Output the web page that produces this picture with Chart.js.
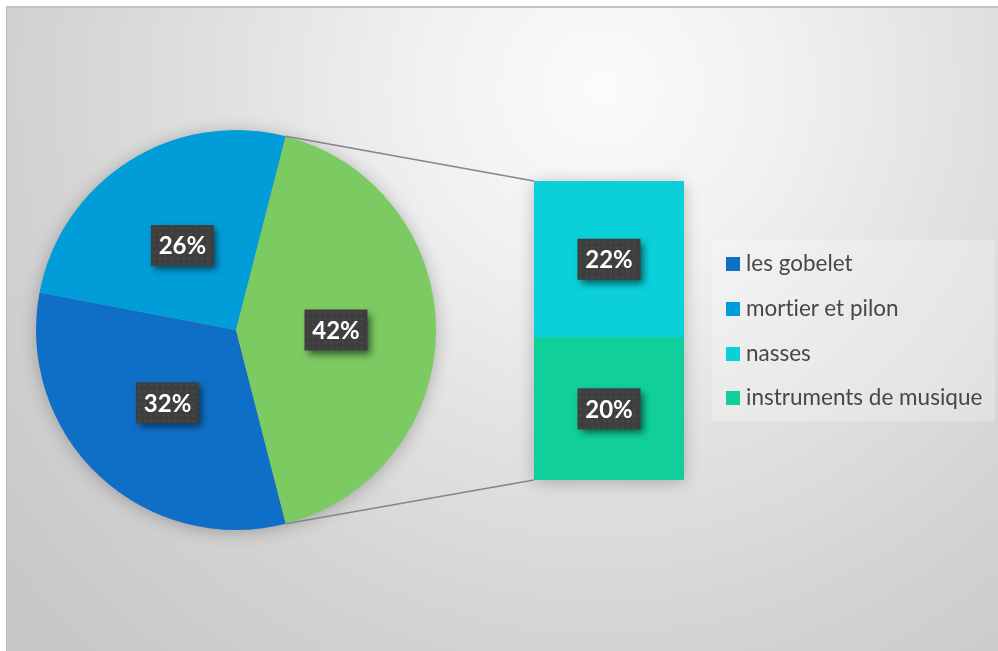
<!DOCTYPE html>
<html><head><meta charset="utf-8">
<script src="https://cdn.jsdelivr.net/npm/chart.js@4/dist/chart.umd.min.js"></script>
<style>
html,body{margin:0;padding:0;background:#fff;width:998px;height:651px;overflow:hidden;font-family:Lato,"Open Sans",sans-serif;}
#frame{position:absolute;left:6px;top:6px;width:992px;height:645px;box-sizing:border-box;border-left:1px solid #b9b9b9;border-top:2px solid #c4c4c4;
background:radial-gradient(circle at 594px 80px,#fbfbfb 0px,#f1f1f1 180px,#e2e2e2 360px,#d3d3d3 560px,#c8c8c8 760px);}
canvas{position:absolute;}
#legend{position:absolute;left:712px;top:240px;width:283px;height:181px;background:rgba(255,255,255,0.25);}
.item{position:absolute;left:14px;height:24px;line-height:24px;font-size:22.5px;color:#474747;white-space:nowrap;font-variant-ligatures:none;}
.item span.sw{display:inline-block;width:14px;height:14px;margin-right:6px;vertical-align:0px;}
</style></head>
<body>
<div id="frame"></div>
<canvas id="pie" width="460" height="460" style="left:6px;top:100px"></canvas>
<canvas id="bar" width="190" height="339" style="left:514px;top:161px"></canvas>
<canvas id="lines" width="998" height="651" style="left:0;top:0;pointer-events:none"></canvas>
<div id="legend"></div>
<script>
// ---- data ----
const categories = ['les gobelet', 'mortier et pilon', 'nasses', 'instruments de musique'];
const values = [32, 26, 22, 20];
const colors = ['#0F6FC6', '#009DD9', '#0BD0D9', '#10CF9B'];
const otherColor = '#7CCA62';
const pieCount = 2; // first two categories in the pie, the rest in the bar

const pieLabels = categories.slice(0, pieCount).concat(['Autre']);
const barCats = categories.slice(pieCount);
const barVals = values.slice(pieCount);
const otherTotal = barVals.reduce((a, b) => a + b, 0);
const pieVals = values.slice(0, pieCount).concat([otherTotal]);
const total = values.reduce((a, b) => a + b, 0);
const pct = v => Math.round(v / total * 100) + '%';

function drawLabelBox(ctx, x, y, text) {
  const w = 63, h = 41;
  ctx.save();
  ctx.shadowColor = 'rgba(0,0,0,0.55)';
  ctx.shadowBlur = 7;
  ctx.shadowOffsetX = 3;
  ctx.shadowOffsetY = 4;
  ctx.fillStyle = '#3e3e3e';
  ctx.fillRect(x - w / 2, y - h / 2, w, h);
  ctx.restore();
  ctx.save();
  ctx.fillStyle = 'rgba(255,255,255,0.045)';
  for (let yy = y - h / 2 + 3; yy < y + h / 2; yy += 6) {
    for (let xx = x - w / 2 + 3; xx < x + w / 2; xx += 6) {
      ctx.beginPath(); ctx.arc(xx, yy, 1.6, 0, Math.PI * 2); ctx.fill();
    }
  }
  ctx.fillStyle = '#ffffff';
  ctx.font = 'bold 24px Lato, "Open Sans", sans-serif';
  ctx.textAlign = 'center';
  ctx.textBaseline = 'middle';
  ctx.fillText(text, x, y + 1);
  ctx.restore();
}

const pieShadow = {
  id: 'pieShadow',
  beforeDatasetsDraw(chart) {
    const arc = chart.getDatasetMeta(0).data[0];
    const ctx = chart.ctx;
    ctx.save();
    ctx.shadowColor = 'rgba(0,0,0,0.28)';
    ctx.shadowBlur = 18;
    ctx.shadowOffsetY = 2;
    ctx.fillStyle = '#999';
    ctx.beginPath(); ctx.arc(arc.x, arc.y, arc.outerRadius - 1, 0, Math.PI * 2); ctx.fill();
    ctx.restore();
  }
};
const pieLabelsPlugin = {
  id: 'pieLabels',
  afterDatasetsDraw(chart) {
    const meta = chart.getDatasetMeta(0);
    meta.data.forEach((el, i) => {
      const p = el.tooltipPosition();
      drawLabelBox(chart.ctx, p.x, p.y, pct(pieVals[i]));
    });
  }
};

const pieChart = new Chart(document.getElementById('pie'), {
  type: 'pie',
  data: { labels: pieLabels, datasets: [{ data: pieVals, backgroundColor: colors.slice(0, pieCount).concat([otherColor]), borderWidth: 0 }] },
  options: {
    responsive: false, animation: false,
    rotation: 90 + (otherTotal / total * 360) / 2,
    layout: { padding: 30 },
    plugins: { legend: { display: false }, tooltip: { enabled: false } }
  },
  plugins: [pieShadow, pieLabelsPlugin]
});

const barShadow = {
  id: 'barShadow',
  beforeDatasetsDraw(chart) {
    const a = chart.chartArea, ctx = chart.ctx;
    ctx.save();
    ctx.shadowColor = 'rgba(0,0,0,0.28)';
    ctx.shadowBlur = 16;
    ctx.shadowOffsetY = 2;
    ctx.fillStyle = '#999';
    ctx.fillRect(a.left + 1, a.top + 1, a.right - a.left - 2, a.bottom - a.top - 2);
    ctx.restore();
  }
};
const barLabelsPlugin = {
  id: 'barLabels',
  afterDatasetsDraw(chart) {
    chart.data.datasets.forEach((ds, di) => {
      chart.getDatasetMeta(di).data.forEach((el, i) => {
        drawLabelBox(chart.ctx, el.x, (el.y + el.base) / 2, pct(ds.data[i]));
      });
    });
  }
};

// stacked bar: last category at the bottom
const barDatasets = barCats.map((c, i) => ({ label: c, data: [barVals[i]], backgroundColor: colors[pieCount + i], borderWidth: 0, categoryPercentage: 1, barPercentage: 1 })).reverse();
const barChart = new Chart(document.getElementById('bar'), {
  type: 'bar',
  data: { labels: [''], datasets: barDatasets },
  options: {
    responsive: false, animation: false,
    layout: { padding: 20 },
    scales: {
      x: { stacked: true, display: false },
      y: { stacked: true, display: false, min: 0, max: otherTotal }
    },
    plugins: { legend: { display: false }, tooltip: { enabled: false } }
  },
  plugins: [barShadow, barLabelsPlugin]
});

// connector lines between the "other" slice and the bar
(function () {
  const pc = document.getElementById('pie'), bc = document.getElementById('bar');
  const arc = pieChart.getDatasetMeta(0).data[pieCount];
  const ox = pc.offsetLeft, oy = pc.offsetTop;
  const bx = bc.offsetLeft, by = bc.offsetTop;
  const p1 = { x: ox + arc.x + arc.outerRadius * Math.cos(arc.startAngle), y: oy + arc.y + arc.outerRadius * Math.sin(arc.startAngle) };
  const p2 = { x: ox + arc.x + arc.outerRadius * Math.cos(arc.endAngle), y: oy + arc.y + arc.outerRadius * Math.sin(arc.endAngle) };
  const topEl = barChart.getDatasetMeta(barDatasets.length - 1).data[0];
  const botEl = barChart.getDatasetMeta(0).data[0];
  const left = bx + topEl.x - topEl.width / 2;
  const q1 = { x: left, y: by + topEl.y };
  const q2 = { x: left, y: by + botEl.base };
  const ctx = document.getElementById('lines').getContext('2d');
  ctx.strokeStyle = '#858585';
  ctx.lineWidth = 1.6;
  ctx.beginPath(); ctx.moveTo(p1.x, p1.y); ctx.lineTo(q1.x, q1.y); ctx.stroke();
  ctx.beginPath(); ctx.moveTo(p2.x, p2.y); ctx.lineTo(q2.x, q2.y); ctx.stroke();
})();

// legend
const lg = document.getElementById('legend');
const rowsY = [11, 56, 101, 145];
categories.forEach((c, i) => {
  const d = document.createElement('div');
  d.className = 'item';
  d.style.top = rowsY[i] + 'px';
  d.innerHTML = '<span class="sw" style="background:' + colors[i] + '"></span>' + c;
  lg.appendChild(d);
});
</script>
</body></html>
